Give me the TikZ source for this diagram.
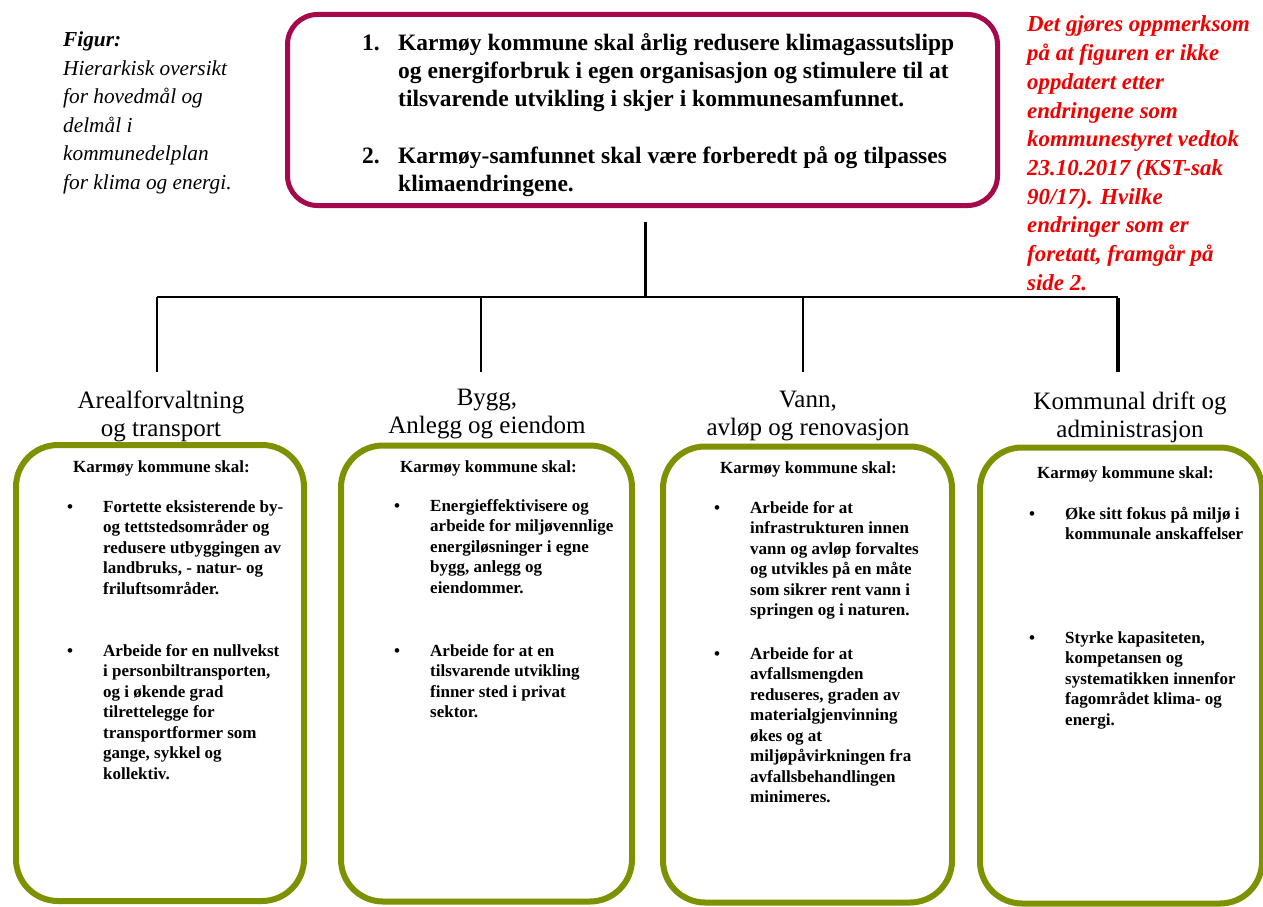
\documentclass[tikz,border=0pt]{standalone}
\usepackage{fontspec}
\setmainfont{Liberation Serif}
\definecolor{crimson}{RGB}{165,8,75}
\definecolor{leafgreen}{RGB}{126,145,0}
\definecolor{notered}{RGB}{240,0,0}
\newcommand\goallines[1]{\parbox[t]{620pt}{\fontsize{23.5pt}{28pt}\selectfont\bfseries\raggedright #1}}
\newcommand\bodylines[1]{\parbox[t]{230pt}{\fontsize{17pt}{20.5pt}\selectfont\bfseries\raggedright #1}}
\newcommand\headlines[1]{\parbox[t]{300pt}{\fontsize{25pt}{28pt}\selectfont\centering #1}}
\tikzset{
  goalbox/.style={draw=crimson, line width=5pt, rounded corners=30pt, minimum width=710pt, minimum height=191pt, inner sep=0pt},
  areabox/.style={draw=leafgreen, line width=6pt, rounded corners=42pt, inner sep=0pt, minimum height=456pt},
  txt/.style={inner sep=0pt, anchor=base west},
  headtxt/.style={inner sep=0pt, anchor=base},
  bulletmark/.style={inner sep=0pt, anchor=base, font=\fontsize{17pt}{20.5pt}\selectfont\bfseries},
  numtxt/.style={inner sep=0pt, anchor=base west, font=\fontsize{23.5pt}{28pt}\selectfont\bfseries},
  conn/.style={draw=black, line width=2.5pt},
}
\begin{document}
\begin{tikzpicture}[x=1pt, y=-1pt]
\useasboundingbox (0,0) rectangle (1263,907);
\fill[white] (0,0) rectangle (1263,907);

% caption
\node[txt] (caption) at (63,46.8) {\parbox[t]{200pt}{\fontsize{21.3pt}{28.5pt}\selectfont\itshape\raggedright
  {\bfseries Figur:}\\Hierarkisk oversikt\\for hovedmål og\\delmål i\\kommunedelplan\\for klima og energi.}};

% red note
\node[txt, text=notered] (note) at (1027,32) {\parbox[t]{240pt}{\fontsize{22.9pt}{28.7pt}\selectfont\bfseries\itshape\raggedright
  Det gjøres oppmerksom\\på at figuren er ikke\\oppdatert etter\\endringene som\\kommunestyret vedtok\\23.10.2017 (KST-sak\\90/17). Hvilke\\endringer som er\\foretatt, framgår på\\side 2.}};

% main goals
\node[goalbox] (goal) at (642.5,110) {};
\node[numtxt] (n1) at (362,50.3) {1.};
\node[txt] (g1) at (398,50.3) {\goallines{Karmøy kommune skal årlig redusere klimagassutslipp\\og energiforbruk i egen organisasjon og stimulere til at\\tilsvarende utvikling i skjer i kommunesamfunnet.}};
\node[numtxt] (n2) at (362,163.3) {2.};
\node[txt] (g2) at (398,163.3) {\goallines{Karmøy-samfunnet skal være forberedt på og tilpasses\\klimaendringene.}};

% connectors
\coordinate (stem) at (645,222);
\coordinate (hub) at (645,297);
\coordinate (j1) at (157,297);
\coordinate (j2) at (481,297);
\coordinate (j3) at (803,297);
\coordinate (j4) at (1118,297);
\coordinate (e1) at (157,372);
\coordinate (e2) at (481,372);
\coordinate (e3) at (803,372);
\coordinate (e4) at (1118,372);
\draw[conn, line width=3pt] (stem) -- (hub);
\draw[conn] (j1) -- (j4);
\draw[conn] (j1) -- (e1);
\draw[conn] (j2) -- (e2);
\draw[conn] (j3) -- (e3);
\draw[conn, line width=4.5pt] ([yshift=-1.2pt]j4) -- (e4);

% headings
\node[headtxt] (h1) at (161,408.5) {\headlines{Arealforvaltning\\og transport}};
\node[headtxt] (h2) at (487,405) {\headlines{Bygg,\\Anlegg og eiendom}};
\node[headtxt] (h3) at (808,407) {\headlines{Vann,\\avløp og renovasjon}};
\node[headtxt] (h4) at (1130,409) {\headlines{Kommunal drift og\\administrasjon}};

% area boxes
\node[areabox, minimum width=288pt] (b1) at (160,673) {};
\node[areabox, minimum width=291pt] (b2) at (486.5,673.5) {};
\node[areabox, minimum width=289pt] (b3) at (807.5,674.5) {};
\node[areabox, minimum width=282pt] (b4) at (1121,675.5) {};

% box 1
\node[txt] (k1) at (73,472) {\bodylines{Karmøy kommune skal:}};
\node[bulletmark] (d11) at (70,512) {•};
\node[txt] (t11) at (103,512) {\bodylines{Fortette eksisterende by-\\og tettstedsområder og\\redusere utbyggingen av\\landbruks, - natur- og\\friluftsområder.}};
\node[bulletmark] (d12) at (70,656) {•};
\node[txt] (t12) at (103,656) {\bodylines{Arbeide for en nullvekst\\i personbiltransporten,\\og i økende grad\\tilrettelegge for\\transportformer som\\gange, sykkel og\\kollektiv.}};

% box 2
\node[txt] (k2) at (400,472) {\bodylines{Karmøy kommune skal:}};
\node[bulletmark] (d21) at (397,511) {•};
\node[txt] (t21) at (430,511) {\bodylines{Energieffektivisere og\\arbeide for miljøvennlige\\energiløsninger i egne\\bygg, anlegg og\\eiendommer.}};
\node[bulletmark] (d22) at (397,656) {•};
\node[txt] (t22) at (430,656) {\bodylines{Arbeide for at en\\tilsvarende utvikling\\finner sted i privat\\sektor.}};

% box 3
\node[txt] (k3) at (720,473) {\bodylines{Karmøy kommune skal:}};
\node[bulletmark] (d31) at (717,513) {•};
\node[txt] (t31) at (750,513) {\bodylines{Arbeide for at\\infrastrukturen innen\\vann og avløp forvaltes\\og utvikles på en måte\\som sikrer rent vann i\\springen og i naturen.}};
\node[bulletmark] (d32) at (717,659) {•};
\node[txt] (t32) at (750,659) {\bodylines{Arbeide for at\\avfallsmengden\\reduseres, graden av\\materialgjenvinning\\økes og at\\miljøpåvirkningen fra\\avfallsbehandlingen\\minimeres.}};

% box 4
\node[txt] (k4) at (1037,478) {\bodylines{Karmøy kommune skal:}};
\node[bulletmark] (d41) at (1032,519) {•};
\node[txt] (t41) at (1065,519) {\bodylines{Øke sitt fokus på miljø i\\kommunale anskaffelser}};
\node[bulletmark] (d42) at (1032,643) {•};
\node[txt] (t42) at (1065,643) {\bodylines{Styrke kapasiteten,\\kompetansen og\\systematikken innenfor\\fagområdet klima- og\\energi.}};
\end{tikzpicture}
\end{document}
